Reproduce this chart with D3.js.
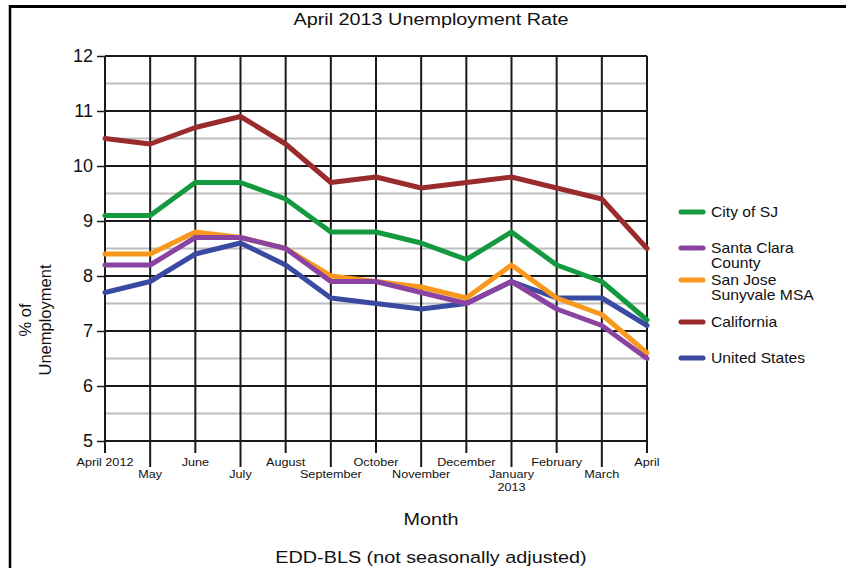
<!DOCTYPE html>
<html lang="en">
<head>
  <meta charset="UTF-8">
  <title>April 2013 Unemployment Rate</title>
  <style>
    body {
      margin: 0;
      background: #fff;
      font-family: 'Liberation Sans', Arial, sans-serif;
    }
    .tick-label { font-size: 11px; fill: #111; }
    .grid-major { stroke: #1a1a1a; stroke-width: 2px; }
    .grid-minor { stroke: #bdbdbd; stroke-width: 2px; }
    .series { fill: none; stroke-width: 5px; stroke-linejoin: round; stroke-linecap: round; }
  </style>
  <script src="https://d3js.org/d3.v7.min.js"></script>
</head>
<body>
<svg width="846" height="568"></svg>
<script>
  const months = ['April 2012', 'May', 'June', 'July', 'August', 'September', 'October',
    'November', 'December', 'January 2013', 'February', 'March', 'April'];

  const california  = [10.5, 10.4, 10.7, 10.9, 10.4, 9.7, 9.8, 9.6, 9.7, 9.8, 9.6, 9.4, 8.5];
  const citySJ      = [9.1, 9.1, 9.7, 9.7, 9.4, 8.8, 8.8, 8.6, 8.3, 8.8, 8.2, 7.9, 7.2];
  const sjMSA       = [8.4, 8.4, 8.8, 8.7, 8.5, 8.0, 7.9, 7.8, 7.6, 8.2, 7.6, 7.3, 6.6];
  const santaClara  = [8.2, 8.2, 8.7, 8.7, 8.5, 7.9, 7.9, 7.7, 7.5, 7.9, 7.4, 7.1, 6.5];
  const unitedStates = [7.7, 7.9, 8.4, 8.6, 8.2, 7.6, 7.5, 7.4, 7.5, 7.9, 7.6, 7.6, 7.1];

  const yTicks = [5, 6, 7, 8, 9, 10, 11, 12];

  // drawing order (bottom first)
  const series = [
    { name: 'United States', values: unitedStates, color: '#3a4aa3' },
    { name: 'San Jose Sunyvale MSA', values: sjMSA, color: '#f8991d' },
    { name: 'Santa Clara County', values: santaClara, color: '#8a43a0' },
    { name: 'City of SJ', values: citySJ, color: '#14993f' },
    { name: 'California', values: california, color: '#992b2d' }
  ];

  const legendItems = [
    { lines: ['City of SJ'], color: '#14993f', y: 212 },
    { lines: ['Santa Clara', 'County'], color: '#8a43a0', y: 248 },
    { lines: ['San Jose', 'Sunyvale MSA'], color: '#f8991d', y: 280 },
    { lines: ['California'], color: '#992b2d', y: 322 },
    { lines: ['United States'], color: '#3a4aa3', y: 358 }
  ];

  const svg = d3.select("svg");

  const x = d3.scalePoint().domain(months).range([105, 647]);
  const y = d3.scaleLinear().domain([5, 12]).range([441, 56]);

  // the source picture is stretched sideways a bit, so text gets a horizontal scale
  function label(px, py, txt, size, sx) {
    return svg.append("text")
      .attr("transform", `translate(${px},${py}) scale(${sx},1)`)
      .attr("text-anchor", "middle").attr("font-size", size).attr("fill", "#111")
      .text(txt);
  }

  // frame
  svg.append("line").attr("x1", 10).attr("x2", 846).attr("y1", 6.5).attr("y2", 6.5)
    .attr("stroke", "#000").attr("stroke-width", 3);
  svg.append("line").attr("x1", 10).attr("x2", 10).attr("y1", 5).attr("y2", 568)
    .attr("stroke", "#000").attr("stroke-width", 2.5);

  label(431, 25, "April 2013 Unemployment Rate", 16.5, 1.2);

  // grid
  const grid = svg.append("g");
  const halfTicks = d3.range(5.5, 12, 1);
  grid.selectAll(".grid-minor").data(halfTicks).join("line")
    .attr("class", "grid-minor")
    .attr("x1", x.range()[0]).attr("x2", x.range()[1])
    .attr("y1", d => y(d)).attr("y2", d => y(d));
  grid.selectAll(".h-major").data(yTicks).join("line")
    .attr("class", "grid-major h-major")
    .attr("x1", x.range()[0]).attr("x2", x.range()[1])
    .attr("y1", d => y(d)).attr("y2", d => y(d));
  grid.selectAll(".v-major").data(months).join("line")
    .attr("class", "grid-major v-major")
    .attr("x1", d => x(d)).attr("x2", d => x(d))
    .attr("y1", y(12)).attr("y2", y(5));

  // y axis
  const yAxis = svg.append("g")
    .attr("transform", `translate(${x.range()[0]},0)`)
    .call(d3.axisLeft(y).tickValues(yTicks).tickFormat(d3.format("d")).tickSize(8).tickPadding(4));
  yAxis.select(".domain").remove();
  yAxis.selectAll(".tick line").attr("stroke", "#1a1a1a").attr("stroke-width", 1.5);
  yAxis.selectAll(".tick text").attr("font-size", 18).attr("fill", "#111")
    .attr("font-family", "'Liberation Sans', Arial, sans-serif");

  // x axis: alternating rows
  const xAxis = svg.append("g").attr("transform", `translate(0,${y(5)})`);
  const xt = xAxis.selectAll("g").data(months).join("g")
    .attr("transform", d => `translate(${x(d)},0)`);
  xt.append("line")
    .attr("y1", 0).attr("y2", (d, i) => i % 2 ? 26 : 12)
    .attr("stroke", "#1a1a1a").attr("stroke-width", 2);
  const xl = xt.append("text").attr("class", "tick-label").attr("text-anchor", "middle")
    .attr("transform", (d, i) => `translate(0,${i % 2 ? 37 : 25}) scale(1.15,1)`);
  xl.each(function (d) {
    const t = d3.select(this);
    const parts = (d === 'January 2013') ? ['January', '2013'] : [d];
    parts.forEach((p, k) => t.append("tspan").attr("x", 0).attr("dy", k ? 13 : 0).text(p));
  });

  // series
  const line = d3.line().x((d, i) => x(months[i])).y(d => y(d));
  svg.append("g").selectAll("path").data(series).join("path")
    .attr("class", "series")
    .attr("stroke", d => d.color)
    .attr("d", d => line(d.values));

  // legend
  const lg = svg.append("g").selectAll("g").data(legendItems).join("g")
    .attr("transform", d => `translate(681,${d.y})`);
  lg.append("line").attr("x1", 0).attr("x2", 22).attr("y1", 0).attr("y2", 0)
    .attr("stroke", d => d.color).attr("stroke-width", 5).attr("stroke-linecap", "round");
  lg.append("text").attr("transform", "translate(30,5) scale(1.12,1)")
    .attr("font-size", 14).attr("fill", "#111")
    .each(function (d) {
      const t = d3.select(this);
      d.lines.forEach((p, k) => t.append("tspan").attr("x", 0).attr("dy", k ? 15 : 0).text(p));
    });

  // axis titles
  svg.append("text").attr("transform", "translate(31,320) rotate(-90)")
    .attr("text-anchor", "middle").attr("font-size", 16.5).attr("fill", "#111").text("% of");
  svg.append("text").attr("transform", "translate(51,320) rotate(-90)")
    .attr("text-anchor", "middle").attr("font-size", 16.5).attr("fill", "#111").text("Unemployment");
  label(431, 525, "Month", 16.5, 1.2);
  label(431, 563, "EDD-BLS (not seasonally adjusted)", 16.5, 1.2);
</script>
</body>
</html>
